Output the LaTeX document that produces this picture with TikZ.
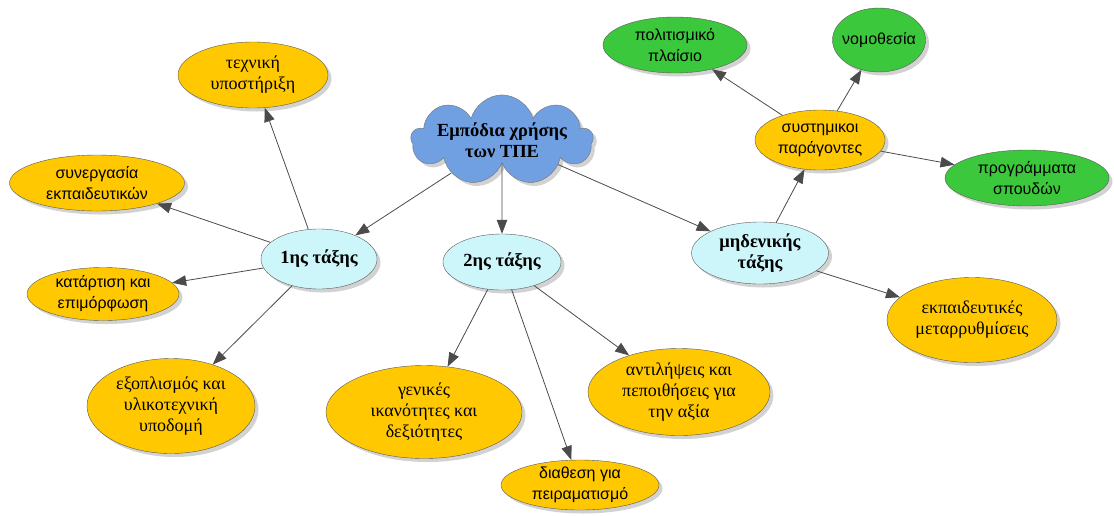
\documentclass[tikz,border=0pt]{standalone}
\usepackage{fontspec}
\setmainfont{Liberation Serif}
\newfontfamily\serifgr{Liberation Serif}
\newfontfamily\sansgr{Liberation Sans}
\usetikzlibrary{shapes.geometric,shapes.symbols,shadows,arrows.meta}
\definecolor{MapYellow}{RGB}{255,200,0}
\definecolor{MapGreen}{RGB}{60,200,60}
\definecolor{MapCyan}{RGB}{205,246,250}
\definecolor{MapBlue}{RGB}{112,160,226}
\definecolor{MapLine}{RGB}{75,75,75}
\tikzset{
  concept/.style={ellipse,draw=black!65,inner sep=-30pt,align=center,
    font=\serifgr\fontsize{18}{21}\selectfont,
    drop shadow={shadow xshift=3.5pt,shadow yshift=-3.5pt,fill=black!35}},
  leaf/.style={concept,fill=MapYellow},
  sleaf/.style={leaf,font=\sansgr\fontsize{16}{21}\selectfont},
  gleaf/.style={concept,fill=MapGreen,font=\sansgr\fontsize{16}{21}\selectfont},
  level/.style={concept,fill=MapCyan,font=\serifgr\bfseries\fontsize{18.5}{21}\selectfont},
  link/.style={draw=MapLine,line width=0.8pt,-{Triangle[length=14pt,width=10.5pt]}},
}
\begin{document}
\begin{tikzpicture}[x=1pt,y=-1pt]
\useasboundingbox (0,0) rectangle (1114,515);
% centre
\node[cloud,cloud puffs=9,aspect=2.1,fill=MapBlue,draw=black!55,inner sep=-20pt,
  minimum width=182pt,minimum height=88pt,align=center,
  font=\serifgr\bfseries\fontsize{18.5}{21}\selectfont,
  drop shadow={shadow xshift=3.5pt,shadow yshift=-3.5pt,fill=black!35}]
  (root) at (502,140) {Εμπόδια χρήσης\\των ΤΠΕ};
% levels
\node[level,minimum width=116pt,minimum height=60pt] (first) at (319,259) {1ης τάξης};
\node[level,minimum width=118pt,minimum height=56pt] (second) at (502,262) {2ης τάξης};
\node[level,minimum width=137pt,minimum height=62pt] (zero) at (760,253) {μηδενικής\\τάξης};
% 1ης τάξης
\node[leaf,minimum width=150pt,minimum height=66pt] (tech) at (253,75) {τεχνική\\υποστήριξη};
\node[sleaf,minimum width=175pt,minimum height=56pt] (coop) at (97,183) {συνεργασία\\εκπαιδευτικών};
\node[sleaf,minimum width=152pt,minimum height=53pt] (train) at (103,294) {κατάρτιση και\\επιμόρφωση};
\node[leaf,minimum width=168pt,minimum height=95pt] (equip) at (171,406) {εξοπλισμός και\\υλικοτεχνική\\υποδομή};
% 2ης τάξης
\node[leaf,minimum width=196pt,minimum height=93pt] (skills) at (424,412) {γενικές\\ικανότητες και\\δεξιότητες};
\node[sleaf,minimum width=158pt,minimum height=50pt] (will) at (580,485) {διαθεση για\\πειραματισμό};
\node[leaf,minimum width=182pt,minimum height=87pt] (beliefs) at (679,392) {αντιλήψεις και\\πεποιθήσεις για\\την αξία};
% μηδενικής τάξης
\node[sleaf,minimum width=130pt,minimum height=60pt] (sys) at (820,140) {συστημικοι\\παράγοντες};
\node[leaf,minimum width=170pt,minimum height=85pt] (reform) at (972,320) {εκπαιδευτικές\\μεταρρυθμίσεις};
\node[gleaf,minimum width=144pt,minimum height=56pt] (culture) at (675,45) {πολιτισμικό\\πλαίσιο};
\node[gleaf,minimum width=93pt,minimum height=64pt] (law) at (879,40) {νομοθεσία};
\node[gleaf,minimum width=164pt,minimum height=56pt] (curr) at (1027,178) {προγράμματα\\σπουδών};
% links
\draw[link] (root) -- (first);
\draw[link] (root) -- (second);
\draw[link] (root) -- (zero);
\draw[link] (first) -- (tech);
\draw[link] (first) -- (coop);
\draw[link] (first) -- (train);
\draw[link] (first) -- (equip);
\draw[link] (second) -- (skills);
\draw[link] (second) -- (will);
\draw[link] (second) -- (beliefs);
\draw[link] (zero) -- (sys);
\draw[link] (zero) -- (reform);
\draw[link] (sys) -- (culture);
\draw[link] (sys) -- (law);
\draw[link] (sys) -- (curr);
\end{tikzpicture}
\end{document}
